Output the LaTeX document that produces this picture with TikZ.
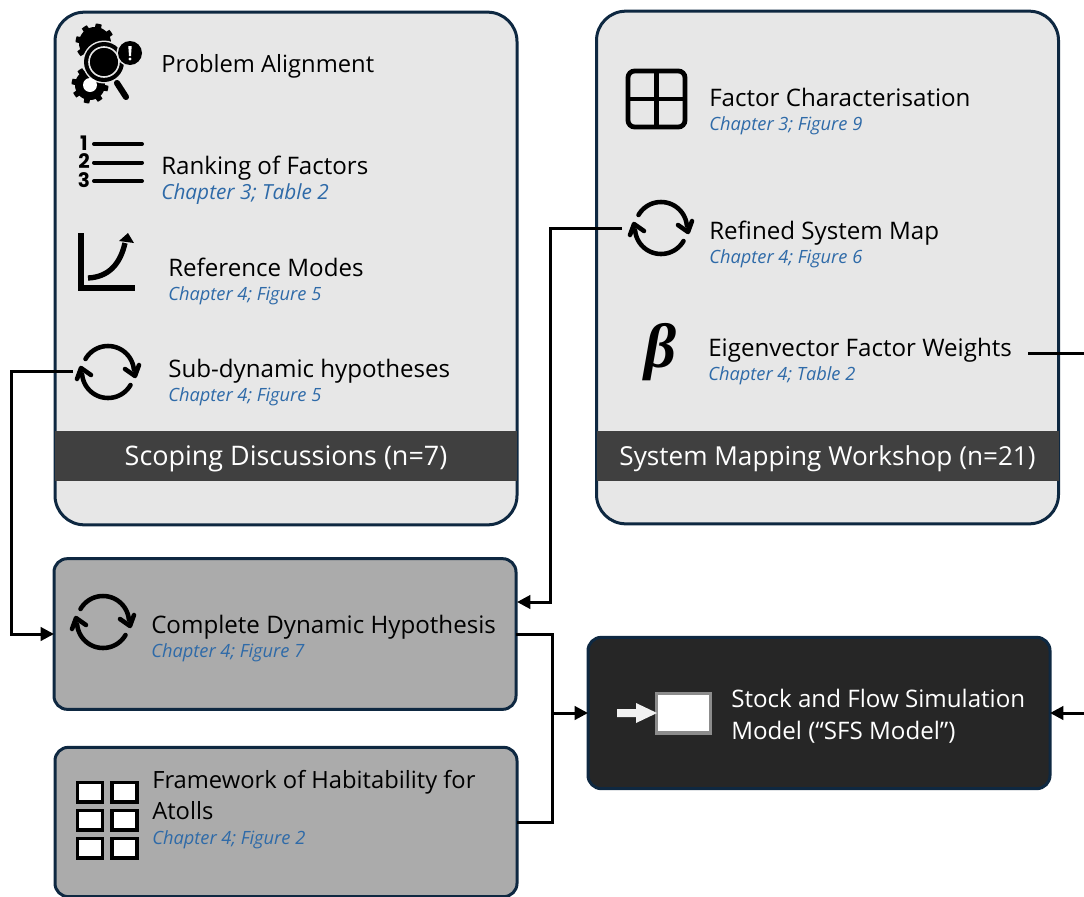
\documentclass[tikz,border=0pt]{standalone}
\usepackage{fontspec}
\setmainfont{Open Sans}
\newfontfamily\betafont{Liberation Serif}
\newfontfamily\rankfont{Poppins}
\usetikzlibrary{arrows.meta}
\definecolor{edgeblue}{HTML}{0E2841}
\definecolor{panelgrey}{HTML}{E7E7E7}
\definecolor{midgrey}{HTML}{ABABAB}
\definecolor{bandgrey}{HTML}{404040}
\definecolor{darkpanel}{HTML}{262626}
\definecolor{chapblue}{HTML}{2E6AA8}
\tikzset{
 panel/.style={draw=edgeblue,line width=2.25pt,rectangle,inner sep=0pt,outer sep=0pt},
 bigpanel/.style={panel,fill=panelgrey,rounded corners=22pt,minimum width=346.5pt,minimum height=384.5pt},
 midpanel/.style={panel,fill=midgrey,rounded corners=10pt,minimum width=346.5pt},
 darkbox/.style={panel,fill=darkpanel,rounded corners=10pt,minimum width=346.5pt,minimum height=113.5pt},
 band/.style={fill=bandgrey,inner sep=0pt,minimum width=346.5pt,minimum height=37.5pt},
 bandtext/.style={text=white,inner sep=0pt},
 title/.style={anchor=base west,inner sep=0pt,font=\fontsize{18.1pt}{20pt}\selectfont,text=black},
 ltitle/.style={title,text=white},
 chap/.style={anchor=base west,inner sep=0pt,font=\fontsize{13.7pt}{14pt}\selectfont\itshape,text=chapblue},
 conn/.style={draw=black,line width=2.25pt},
 connarrow/.style={conn,-{Triangle[length=10pt,width=10pt]}},
 ico/.style={line width=3.4pt,draw=black,line cap=round},
 cyc/.pic={
  \draw[ico] plot[domain=150:5,samples=30] ({26*cos(\x)},{-26*sin(\x)});
  \draw[ico,line join=round] (17,-3) -- (27,4) -- (31,-7);
  \draw[ico] plot[domain=-30:-175,samples=30] ({26*cos(\x)},{-26*sin(\x)});
  \draw[ico,line join=round] (-17,3) -- (-27,-4) -- (-31,7);
 }
}
\begin{document}
\begin{tikzpicture}[x=0.75pt,y=-0.75pt]
\useasboundingbox (0,0) rectangle (1084,896);
% panels
\node[bigpanel] (scoping) at (286,268.5) {};
\node[bigpanel] (mapping) at (827.5,267.5) {};
\node[band] (scopingband) at (286,456) {};
\node[band] (mappingband) at (827.5,456) {};
\node[bandtext,font=\fontsize{20.2pt}{23pt}\selectfont] (scopinglabel) at (286,459) {Scoping Discussions (n=7)};
\node[bandtext,font=\fontsize{19.6pt}{23pt}\selectfont] (mappinglabel) at (827.5,459) {System Mapping Workshop (n=21)};
\node[midpanel,minimum height=113pt] (complete) at (285,634) {};
\node[midpanel,minimum height=112pt] (framework) at (286,822) {};
\node[darkbox] (sfs) at (819,713) {};
% text
\node[title,font=\fontsize{17.8pt}{20pt}\selectfont] (t1) at (161,72) {Problem Alignment};
\node[title] (t2) at (161,174) {Ranking of Factors};
\node[chap,font=\fontsize{15.6pt}{16pt}\selectfont\itshape] (c2) at (161,199.5) {Chapter 3; Table 2};
\node[title] (t3) at (168,276) {Reference Modes};
\node[chap] (c3) at (168,300) {Chapter 4; Figure 5};
\node[title] (t4) at (168,377) {Sub-dynamic hypotheses};
\node[chap] (c4) at (168,401) {Chapter 4; Figure 5};
\node[title] (t5) at (709,106) {Factor Characterisation};
\node[chap] (c5) at (709,130) {Chapter 3; Figure 9};
\node[title] (t6) at (709,239) {Refined System Map};
\node[chap] (c6) at (709,263) {Chapter 4; Figure 6};
\node[title] (t7) at (708,356) {Eigenvector Factor Weights};
\node[chap] (c7) at (708,380) {Chapter 4; Table 2};
\node[title] (t8) at (151,633) {Complete Dynamic Hypothesis};
\node[chap] (c8) at (151,657) {Chapter 4; Figure 7};
\node[title,font=\fontsize{17.8pt}{20pt}\selectfont] (t9) at (152,788) {Framework of Habitability for};
\node[title,font=\fontsize{17.8pt}{20pt}\selectfont] (t9b) at (152,819) {Atolls};
\node[chap] (c9) at (152,844) {Chapter 4; Figure 2};
\node[ltitle] (t10) at (731,707) {Stock and Flow Simulation};
\node[ltitle] (t10b) at (731,739) {Model (“SFS Model”)};
% gears icon
\fill[black] plot[domain=0:360,samples=145] ({95+(16+3.5*(sin(8*\x)>0))*cos(\x)},{43+(16+3.5*(sin(8*\x)>0))*sin(\x)}) -- cycle;
\fill[black] plot[domain=0:360,samples=145] ({90+(15+3.5*(sin(8*\x)>0))*cos(\x)},{85+(15+3.5*(sin(8*\x)>0))*sin(\x)}) -- cycle;
\fill[panelgrey] (104,62) circle[radius=21.5];
\fill[white] (90,85) circle[radius=7];
\fill[black] (104,62) circle[radius=20];
\draw[panelgrey,line width=1.2pt] (104,62) circle[radius=15];
\draw[black,line width=4.6pt,line cap=round] (117,83) -- (126,97);
\fill[panelgrey] (130,53) circle[radius=13.5];
\fill[black] (130,53) circle[radius=12];
\fill[white] (128.3,46) -- (131.7,46) -- (131,56) -- (129,56) -- cycle;
\fill[white] (130,59) circle[radius=1.7];
% ranking icon
\foreach \yy/\nn in {144/1,162.5/2,181/3}{
 \draw[black,line width=3pt,line cap=round] (94,\yy) -- (142,\yy);
 \node[inner sep=0pt,font=\rankfont\fontsize{15pt}{15pt}\selectfont\bfseries] (rank\nn) at (84,\yy-1) {\nn};
}
% reference modes icon
\draw[black,line width=4pt] (81,233) -- (81,288) -- (135,288);
\draw[black,line width=4pt] (88,278) .. controls (108,277) and (120,265) .. (125,243);
\fill[black] (128,233) -- (119,241) -- (134,243) -- cycle;
% cycle icons
\pic at (108,372) {cyc};
\pic at (661,228) {cyc};
\pic at (103,622) {cyc};
% table icon
\draw[black,line width=3.6pt,rounded corners=5pt] (628,71) rectangle (685,127);
\draw[black,line width=3.6pt] (656.5,71) -- (656.5,127) (628,99) -- (685,99);
% beta
\node[inner sep=0pt,font=\betafont\itshape\bfseries\fontsize{47pt}{47pt}\selectfont] (betasym) at (661,352) {β};
% framework icon
\foreach \xx/\aa in {76/a,110.5/b}{\foreach \yy/\bb in {781/a,809/b,837/c}{
 \draw[black,fill=white,line width=2.3pt] (\xx+1.5,\yy+1.5) rectangle (\xx+26.5,\yy+21);
}}
% sfs icon
\draw[draw=gray!90,fill=white,line width=2.4pt] (656.5,693.5) rectangle (710.5,733);
\fill[white!95!black] (617,709) -- (636,709) -- (636,703) -- (657,713) -- (636,723) -- (636,717) -- (617,717) -- cycle;
% connectors
\coordinate (hypout) at (73,371);
\coordinate (hypturn) at (11,371);
\coordinate (mapout) at (622,228);
\coordinate (mapturn) at (550,228);
\coordinate (mapin) at (517,602);
\coordinate (busjoin) at (552,713);
\coordinate (eigout) at (1028,353);
\coordinate (eigturn) at (1087,353);
\draw[connarrow] (hypout) -- (hypturn) |- (complete.west);
\draw[connarrow] (mapout) -- (mapturn) |- (mapin);
\draw[conn] (complete.east) -| (busjoin);
\draw[conn] (framework.east) -| (busjoin);
\draw[connarrow] (busjoin) -- (sfs.west);
\draw[connarrow] (eigout) -- (eigturn) |- (sfs.east);
\end{tikzpicture}
\end{document}
